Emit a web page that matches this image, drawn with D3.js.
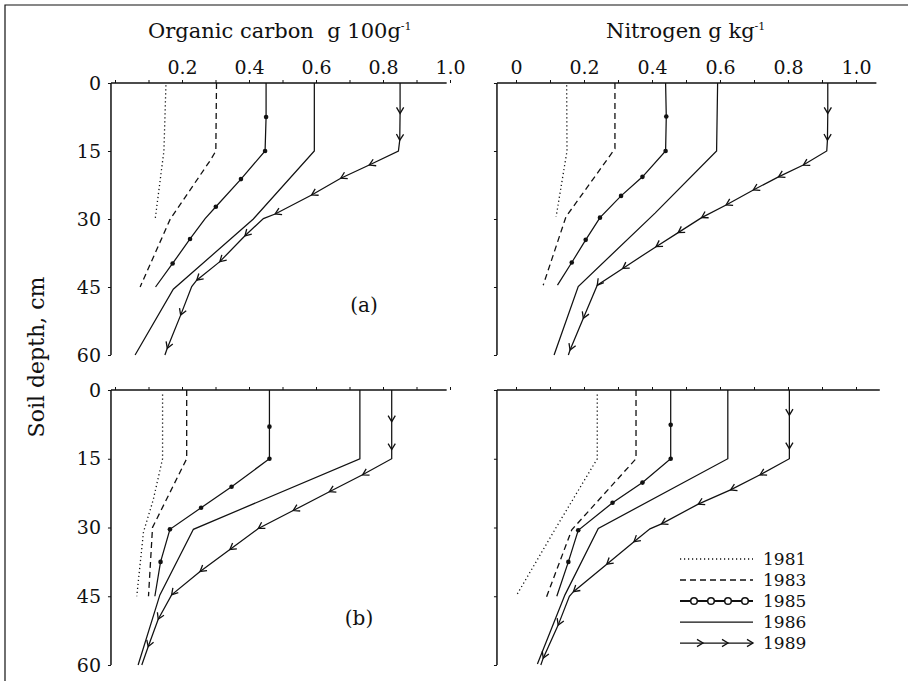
<!DOCTYPE html>
<html><head><meta charset="utf-8">
<script src="https://cdn.jsdelivr.net/npm/d3@7"></script>
<style>
body{margin:0;background:#fff}
svg{display:block}
text{font-family:"DejaVu Serif",serif;fill:#111}
</style>
</head><body>
<svg id="c" width="908" height="681"></svg>
<script>
// ---------- DATA (depth cm, value, marker flag) ----------
const years = ["1981","1983","1985","1986","1989"];
const depthTicks = [0,15,30,45,60];
const carbonTicks = [0.2,0.4,0.6,0.8,1.0];
const nitrogenTicks = [0,0.2,0.4,0.6,0.8,1.0];

// (a) organic carbon, g 100g-1
const carbonA1981 = [[0.5,0.152],[15,0.146],[30,0.120]];
const carbonA1983 = [[0,0.303],[15,0.301],[17,0.285],[30,0.165],[45,0.075]];
const carbonA1985 = [[0,0.451],[7.5,0.451,1],[15,0.448,1],[21.2,0.376,1],[27.3,0.301,1],[29.9,0.269],[34.4,0.224,1],[39.8,0.172,1],[45,0.121]];
const carbonA1986 = [[0,0.595],[15,0.595],[30,0.413],[45.5,0.174],[60,0.060]];
const carbonA1989 = [[0,0.851],[6.7,0.851,1],[12.6,0.850,1],[15,0.846],[18.1,0.759,1],[21.0,0.674,1],[24.7,0.587,1],[28.9,0.478,1],[29.9,0.443],[33.7,0.388,1],[39.4,0.313,1],[43.5,0.244,1],[44.9,0.229],[51.2,0.196,1],[58.5,0.156,1],[60,0.149]];

// (a) nitrogen, g kg-1
const nitrogenA1981 = [[0.5,0.149],[15,0.150],[29.5,0.118]];
const nitrogenA1983 = [[0,0.291],[14.5,0.291],[29.5,0.147],[44.6,0.080]];
const nitrogenA1985 = [[0,0.440],[7.4,0.442,1],[15,0.440,1],[20.7,0.372,1],[24.9,0.309,1],[29.7,0.247,1],[34.6,0.205,1],[39.6,0.164,1],[44.6,0.122]];
const nitrogenA1986 = [[0,0.593],[15,0.590],[28.7,0.409],[44.9,0.183],[60,0.112]];
const nitrogenA1989 = [[0,0.917],[6.7,0.917,1],[12.6,0.916,1],[15,0.914],[18.1,0.845,1],[20.7,0.772,1],[23.6,0.698,1],[26.9,0.618,1],[29.7,0.546,1],[33.0,0.477,1],[36.1,0.412,1],[40.9,0.314,1],[44.6,0.239,1],[51.9,0.198,1],[58.9,0.159,1],[60,0.154]];

// (b) organic carbon
const carbonB1981 = [[1,0.142],[15,0.142],[24,0.114],[31,0.085],[45,0.065]];
const carbonB1983 = [[0,0.214],[15,0.214],[30,0.112],[45,0.100]];
const carbonB1985 = [[0,0.461],[8,0.461,1],[15,0.461,1],[21.1,0.348,1],[25.7,0.257,1],[30.4,0.164,1],[37.5,0.136,1],[45,0.119]];
const carbonB1986 = [[0,0.731],[15,0.731],[30.4,0.234],[44.7,0.134],[60,0.069]];
const carbonB1989 = [[0,0.826],[6.9,0.826,1],[13,0.826,1],[15,0.826],[18.5,0.739,1],[22.2,0.640,1],[26.3,0.532,1],[30.2,0.428,1],[34.8,0.343,1],[39.6,0.254,1],[44.7,0.169,1],[50,0.129,1],[56,0.099,1],[60,0.080]];

// (b) nitrogen
const nitrogenB1981 = [[1,0.239],[15,0.239],[30,0.118],[45,0.0]];
const nitrogenB1983 = [[0,0.353],[15,0.353],[30.5,0.164],[45.1,0.090]];
const nitrogenB1985 = [[0,0.455],[7.6,0.455,1],[15,0.455,1],[20.2,0.372,1],[24.6,0.284,1],[30.6,0.183,1],[37.5,0.154,1],[45,0.120]];
const nitrogenB1986 = [[0,0.623],[15,0.623],[30.2,0.242],[44.7,0.144],[59.8,0.063]];
const nitrogenB1989 = [[0,0.804],[5.5,0.804,1],[12.8,0.804,1],[15,0.804],[18.5,0.718,1],[21.8,0.631,1],[24.9,0.536,1],[29.2,0.428,1],[30.3,0.394],[33.1,0.347,1],[38,0.267,1],[44,0.169,1],[45,0.157],[51.3,0.124,1],[58.5,0.080,1],[60,0.073]];

// ---------- LAYOUT ----------
const svg = d3.select("#c");
const INK = "#111";

const xCarbon = d3.scaleLinear().domain([0,1]).range([115,450]);
const xNitro  = d3.scaleLinear().domain([0,1]).range([516,856]);
const yTop = d3.scaleLinear().domain([0,60]).range([83,355]);
const yBot = d3.scaleLinear().domain([0,60]).range([390,665]);

const panels = [
  {x:xCarbon, y:yTop, xmin:-0.012, xmax:0.99, series:[carbonA1981,carbonA1983,carbonA1985,carbonA1986,carbonA1989], xLabels:carbonTicks, yLabels:true, tag:"(a)", tagPos:[364,312]},
  {x:xNitro,  y:yTop, xmin:-0.056, xmax:1.06, series:[nitrogenA1981,nitrogenA1983,nitrogenA1985,nitrogenA1986,nitrogenA1989], xLabels:nitrogenTicks, yLabels:false},
  {x:xCarbon, y:yBot, xmin:-0.012, xmax:0.99, series:[carbonB1981,carbonB1983,carbonB1985,carbonB1986,carbonB1989], xLabels:null, yLabels:true, tag:"(b)", tagPos:[359,625]},
  {x:xNitro,  y:yBot, xmin:-0.056, xmax:1.07, series:[nitrogenB1981,nitrogenB1983,nitrogenB1985,nitrogenB1986,nitrogenB1989], xLabels:null, yLabels:false}
];

const styles = {
  "1981":{dash:"1.2,2.8", w:1.3},
  "1983":{dash:"6,4", w:1.3},
  "1985":{dash:null, w:1.25},
  "1986":{dash:null, w:1.25},
  "1989":{dash:null, w:1.25}
};

// frame
svg.append("path").attr("d","M5,681 L5,5 L908,5").attr("fill","none").attr("stroke",INK).attr("stroke-width",1.2);

function chevron(g, px, py, ang, L, W){
  g.append("path")
    .attr("d",`M${-L},${-W} L0,0 L${-L},${W}`)
    .attr("transform",`translate(${px},${py}) rotate(${ang})`)
    .attr("fill","none").attr("stroke",INK).attr("stroke-width",1.3);
}

panels.forEach(p=>{
  const g = svg.append("g");
  const y0 = p.y(0);
  const xa = p.x(p.xmin);
  // axis lines
  g.append("line").attr("x1",xa).attr("x2",p.x(p.xmax)).attr("y1",y0).attr("y2",y0).attr("stroke",INK).attr("stroke-width",1.5);
  g.append("line").attr("x1",xa).attr("x2",xa).attr("y1",y0).attr("y2",p.y(60)).attr("stroke",INK).attr("stroke-width",1.5);
  // minor ticks on top axis
  const tg = g.append("g").attr("transform",`translate(0,${y0})`)
    .call(d3.axisTop(p.x).tickValues(d3.ticks(0,1,10)).tickSize(3).tickSizeOuter(0).tickFormat(""));
  tg.select(".domain").remove();
  tg.selectAll("line").attr("stroke",INK);
  if(p.xLabels){
    const lg = g.append("g").attr("transform",`translate(0,${y0})`)
      .call(d3.axisTop(p.x).tickValues(p.xLabels).tickSize(0).tickPadding(9).tickFormat(d=> d===0 ? "0" : d3.format(".1f")(d)));
    lg.select(".domain").remove();
    lg.selectAll("text").attr("font-family","DejaVu Serif").attr("font-size",19).attr("fill",INK);
  }
  // y axis ticks / labels
  const ya = g.append("g").attr("transform",`translate(${xa},0)`)
    .call(d3.axisLeft(p.y).tickValues(depthTicks).tickSize(3).tickPadding(7).tickFormat(p.yLabels? d3.format("d") : ""));
  ya.select(".domain").remove();
  ya.selectAll("line").attr("stroke",INK);
  ya.selectAll("text").attr("font-family","DejaVu Serif").attr("font-size",19).attr("fill",INK);

  const line = d3.line().x(d=>p.x(d[1])).y(d=>p.y(d[0]));
  p.series.forEach((s,i)=>{
    const yr = years[i], st = styles[yr];
    g.append("path").datum(s).attr("d",line).attr("fill","none").attr("stroke",INK)
      .attr("stroke-width",st.w).attr("stroke-dasharray",st.dash);
    s.forEach((d,j)=>{
      if(!d[2]) return;
      const px = p.x(d[1]), py = p.y(d[0]);
      if(yr==="1985"){
        g.append("circle").attr("cx",px).attr("cy",py).attr("r",2.3).attr("fill",INK);
      } else if(yr==="1989"){
        const a = s[Math.max(0,j-1)], b = s[Math.min(s.length-1,j+1)];
        const ang = Math.atan2(p.y(b[0])-p.y(a[0]), p.x(b[1])-p.x(a[1]))*180/Math.PI;
        chevron(g, px, py, ang, 6, 3.6);
      }
    });
  });
  if(p.tag){
    g.append("text").attr("x",p.tagPos[0]).attr("y",p.tagPos[1]).attr("text-anchor","middle")
      .attr("font-size",20).text(p.tag);
  }
});

// titles
const t1 = svg.append("text").attr("x",148).attr("y",38).attr("font-size",21);
t1.append("tspan").text("Organic carbon\u00a0\u00a0g 100g");
t1.append("tspan").attr("dy",-8).attr("font-size",11).text("-1");
const t2 = svg.append("text").attr("x",606).attr("y",38).attr("font-size",21);
t2.append("tspan").text("Nitrogen g kg");
t2.append("tspan").attr("dy",-8).attr("font-size",11).text("-1");

svg.append("text").attr("transform","translate(44,357) rotate(-90)").attr("text-anchor","middle")
  .attr("font-size",22).text("Soil depth, cm");

// legend
const legX0 = 680, legX1 = 753;
const legY = [559,580,601,622,643];
const lg = svg.append("g");
years.forEach((yr,i)=>{
  const yy = legY[i], st = styles[yr];
  lg.append("line").attr("x1",legX0).attr("x2",legX1).attr("y1",yy).attr("y2",yy)
    .attr("stroke",INK).attr("stroke-width", yr==="1985"?2:st.w).attr("stroke-dasharray",st.dash);
  if(yr==="1985"){
    [694,711,728,745].forEach(cx=>lg.append("circle").attr("cx",cx).attr("cy",yy).attr("r",3.3)
      .attr("fill","#fff").attr("stroke",INK).attr("stroke-width",1.5));
  }
  if(yr==="1989"){
    [703,728,753].forEach(cx=>chevron(lg,cx,yy,0,6,3.6));
  }
  lg.append("text").attr("x",763).attr("y",yy+6).attr("font-size",17).text(yr);
});
</script>
</body></html>
